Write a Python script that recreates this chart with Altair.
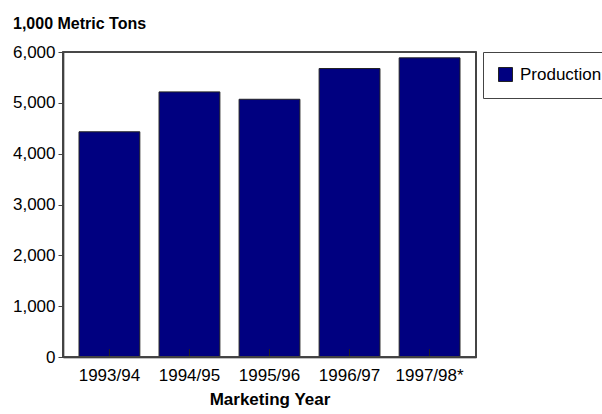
import altair as alt
import pandas as pd

# Marketing-year production, 1,000 metric tons
years = ["1993/94", "1994/95", "1995/96", "1996/97", "1997/98*"]
production = [4430, 5215, 5070, 5675, 5885]
series = "Production"

FONT = "Liberation Sans"
NAVY = "#000080"

W, H = 413, 305

df = pd.DataFrame({"year": years, "value": production, "series": series})

x_enc = alt.X(
    "year:N",
    sort=years,
    scale=alt.Scale(paddingInner=0.24, paddingOuter=0.2),
    axis=alt.Axis(
        title="Marketing Year",
        titleFont=FONT,
        titleFontSize=17,
        titleFontWeight="bold",
        titleColor="#000",
        titlePadding=8,
        labelFont=FONT,
        labelFontSize=17,
        labelColor="#000",
        labelAngle=0,
        labelPadding=10,
        ticks=False,
        domainColor="#000",
        domainWidth=1.5,
    ),
)

bars = alt.Chart(df).mark_bar(
    color=NAVY, stroke="#222", strokeWidth=1
).encode(
    x=x_enc,
    y=alt.Y(
        "value:Q",
        scale=alt.Scale(domain=[0, 6000], nice=False),
        axis=alt.Axis(
            title=None,
            values=list(range(0, 6001, 500)),
            labelExpr="datum.value % 1000 == 0 ? format(datum.value, ',') : ''",
            labelFont=FONT,
            labelFontSize=17,
            labelColor="#000",
            labelPadding=3,
            tickSize=5,
            tickColor="#444",
            domainColor="#000",
            domainWidth=1.5,
            grid=False,
        ),
    ),
    fill=alt.Fill(
        "series:N",
        scale=alt.Scale(domain=[series], range=[NAVY]),
        legend=alt.Legend(
            title=None,
            orient="none",
            legendX=420,
            legendY=0,
            symbolType="square",
            symbolSize=196,
            symbolStrokeColor="#222",
            symbolStrokeWidth=1,
            labelFont=FONT,
            labelFontSize=17,
            labelColor="#000",
            labelOffset=6,
            padding=14,
            strokeColor="#444",
            fillColor="white",
        ),
    ),
)

# small category ticks rising from the baseline at each bar centre
ticks = alt.Chart(df).mark_rule(color="#222", strokeWidth=1).encode(
    x=alt.X("year:N", sort=years),
    y=alt.datum(0),
    y2=alt.value(H - 8),
)

# dark frame around the plotting area
frame = alt.Chart(df).mark_rect(
    fill=None, fillOpacity=0, stroke="#444", strokeWidth=1.2
).encode(
    x=alt.value(0), x2=alt.value(W), y=alt.value(0), y2=alt.value(H)
)

chart = (
    alt.layer(bars, ticks, frame)
    .properties(
        width=W,
        height=H,
        title=alt.TitleParams(
            "1,000 Metric Tons",
            font=FONT,
            fontSize=16,
            fontWeight="bold",
            color="#000",
            anchor="start",
            frame="group",
            dx=-50,
            offset=11,
        ),
        autosize=alt.AutoSizeParams(type="none"),
        padding={"left": 63, "top": 52, "right": 126, "bottom": 57},
    )
    .configure_view(stroke=None)
    .configure(background="white")
)

chart.save("out.html", embed_options={"renderer": "svg", "actions": False})
